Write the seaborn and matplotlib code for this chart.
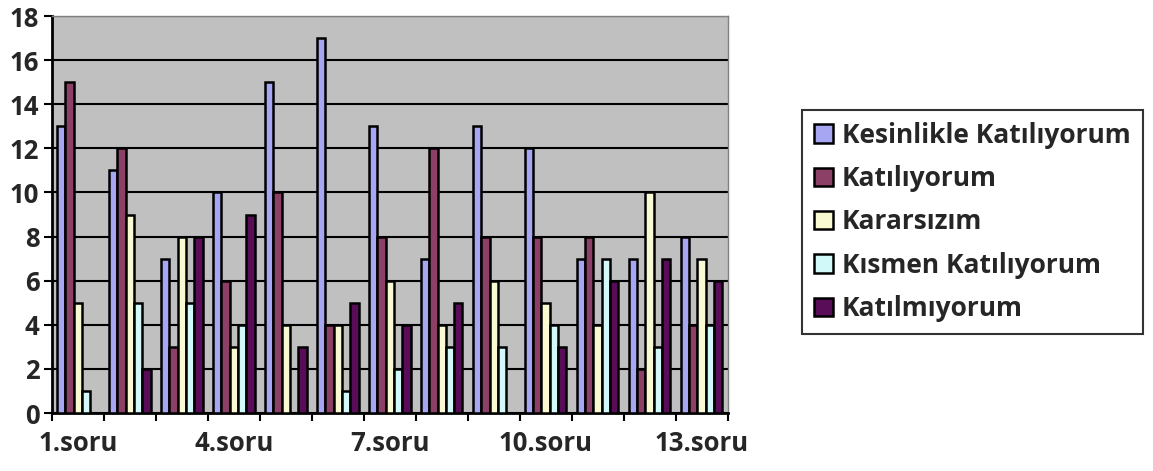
import numpy as np
import pandas as pd
import matplotlib
matplotlib.use('Agg')
import matplotlib.pyplot as plt
import seaborn as sns

# Veriler
sorular = [f'{i}.soru' for i in range(1, 14)]
seriler = ['Kesinlikle Katılıyorum', 'Katılıyorum', 'Kararsızım',
           'Kısmen Katılıyorum', 'Katılmıyorum']
kesinlikle = [13, 11, 7, 10, 15, 17, 13, 7, 13, 12, 7, 7, 8]
katiliyorum = [15, 12, 3, 6, 10, 4, 8, 12, 8, 8, 8, 2, 4]
kararsizim = [5, 9, 8, 3, 4, 4, 6, 4, 6, 5, 4, 10, 7]
kismen = [1, 5, 5, 4, 0, 1, 2, 3, 3, 4, 7, 3, 4]
katilmiyorum = [0, 2, 8, 9, 3, 5, 4, 5, 0, 3, 6, 7, 6]
renkler = ['#9999FF', '#993366', '#FFFFCC', '#CCFFFF', '#660066']

degerler = [kesinlikle, katiliyorum, kararsizim, kismen, katilmiyorum]
df = pd.DataFrame({
    'Soru': sorular * len(seriler),
    'Seri': np.repeat(seriler, len(sorular)),
    'Deger': np.concatenate(degerler),
})

sns.set_style('white')
plt.rcParams['font.family'] = ['Open Sans', 'DejaVu Sans']
plt.rcParams['font.weight'] = 'bold'

fig = plt.figure(figsize=(11.53, 4.71), dpi=100)
ax = fig.add_axes([0.045, 0.123, 0.586, 0.843])
ax.set_facecolor('#C0C0C0')

sns.barplot(data=df, x='Soru', y='Deger', hue='Seri', order=sorular,
            hue_order=seriler, palette=renkler, width=0.8, gap=0.0,
            edgecolor='black', linewidth=1.8, ax=ax, zorder=3)

ax.set_ylim(0, 18)
ax.set_yticks(range(0, 19, 2))
ax.set_xlim(-0.5, len(sorular) - 0.5)
ax.yaxis.grid(True, color='black', linewidth=1.5, zorder=0)
ax.set_axisbelow(True)

# x ekseni: gruplar arasi tik, her 3 soruda etiket
ax.set_xticks(np.arange(-0.5, len(sorular), 1.0), minor=False)
ax.set_xticklabels([])
ax.set_xticks(range(0, len(sorular), 3), minor=True)
ax.set_xticklabels([sorular[i] for i in range(0, len(sorular), 3)], minor=True)
ax.tick_params(axis='x', which='major', length=6, width=1.5, direction='out', color='black', bottom=True)
ax.tick_params(axis='x', which='minor', length=0, labelsize=18.5, pad=12)
ax.tick_params(axis='y', length=6, width=1.5, direction='out', color='black', left=True, labelsize=18.5, pad=3)
for lbl in ax.get_xticklabels(minor=True) + ax.get_yticklabels():
    lbl.set_fontweight('bold')

ax.set_xlabel('')
ax.set_ylabel('')
for side in ['left', 'bottom']:
    ax.spines[side].set_color('black')
    ax.spines[side].set_linewidth(2)
for side in ['top', 'right']:
    ax.spines[side].set_color('#808080')
    ax.spines[side].set_linewidth(1)

handles, labels = ax.get_legend_handles_labels()
ax.get_legend().remove()
leg = fig.legend(handles, labels, loc='upper left', bbox_to_anchor=(0.696, 0.767),
                 frameon=True, fancybox=False, edgecolor='black', fontsize=19,
                 handlelength=0.7, handleheight=0.7, handletextpad=0.35,
                 labelspacing=0.62, borderpad=0.45, borderaxespad=0)
leg.get_frame().set_linewidth(1.5)
for t in leg.get_texts():
    t.set_fontweight('bold')

fig.savefig('out.png', dpi=100)
